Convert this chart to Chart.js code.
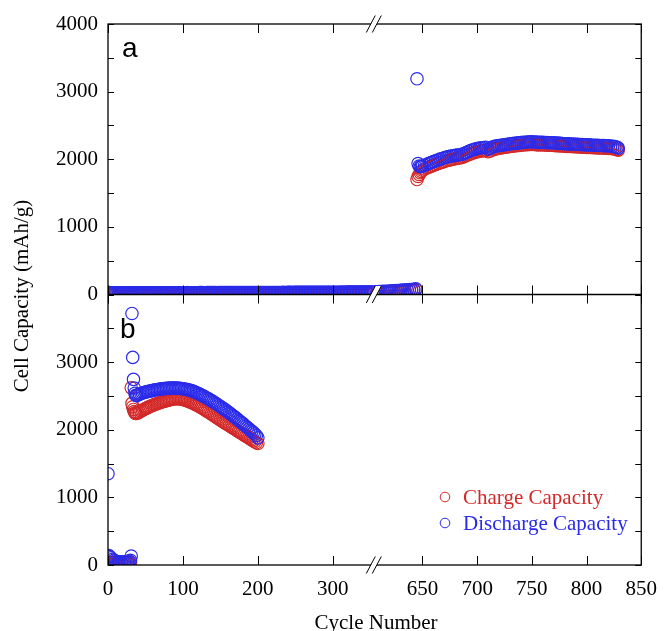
<!DOCTYPE html>
<html>
<head>
<meta charset="utf-8">
<script src="https://cdn.jsdelivr.net/npm/chart.js@4.4.1/dist/chart.umd.min.js"></script>
<style>
  body { margin: 0; background: #fff; }
  #wrap { width: 669px; height: 631px; }
</style>
</head>
<body>
<div id="wrap"><canvas id="capChart" width="669" height="631"></canvas></div>
<script>
// ---- panel a : low capacity cycles, left of the break (every 2nd cycle, 0..354) ----
const aLowLeftCycles = [
  0,2,4,6,8,10,12,14,16,18, 20,22,24,26,28,30,32,34,36,38, 40,42,44,46,48,50,52,54,56,58,
  60,62,64,66,68,70,72,74,76,78, 80,82,84,86,88,90,92,94,96,98, 100,102,104,106,108,110,112,114,116,118,
  120,122,124,126,128,130,132,134,136,138, 140,142,144,146,148,150,152,154,156,158,
  160,162,164,166,168,170,172,174,176,178, 180,182,184,186,188,190,192,194,196,198,
  200,202,204,206,208,210,212,214,216,218, 220,222,224,226,228,230,232,234,236,238,
  240,242,244,246,248,250,252,254,256,258, 260,262,264,266,268,270,272,274,276,278,
  280,282,284,286,288,290,292,294,296,298, 300,302,304,306,308,310,312,314,316,318,
  320,322,324,326,328,330,332,334,336,338, 340,342,344,346,348,350,352,354];
const aLowLeftDischarge = [
  28,27,26,26,25,25,25,24,24,24, 24,24,23,23,24,24,24,24,25,25, 24,24,24,25,25,25,25,24,25,25,
  25,25,24,24,25,25,25,26,26,26, 26,25,25,25,26,26,26,26,25,26, 26,26,26,27,26,26,26,25,26,26,
  26,27,27,27,26,26,27,27,27,27, 27,27,27,26,27,27,27,28,28,27,
  27,28,28,28,27,28,28,28,28,28, 28,27,28,28,29,29,28,28,29,29,
  29,28,29,29,29,29,30,29,29,30, 30,30,29,30,30,30,30,31,30,30,
  31,31,31,30,31,31,31,32,31,31, 32,32,31,32,32,32,32,33,32,32,
  33,33,32,33,33,33,34,33,33,34, 34,34,33,34,34,34,35,34,34,35,
  35,35,35,36,35,35,36,36,36,37, 36,36,37,37,37,38,38,38];
const aLowLeftCharge = [
  18,17,16,16,15,15,15,14,14,14, 14,14,13,13,14,14,14,14,15,15, 14,14,14,15,15,15,15,14,15,15,
  15,15,14,14,15,15,15,16,16,16, 16,15,15,15,16,16,16,16,15,16, 16,16,16,17,16,16,16,15,16,16,
  16,17,17,17,16,16,17,17,17,17, 17,17,17,16,17,17,17,18,18,17,
  17,18,18,18,17,18,18,18,18,18, 18,17,18,18,19,19,18,18,19,19,
  19,18,19,19,19,19,20,19,19,20, 20,20,19,20,20,20,20,21,20,20,
  21,21,21,20,21,21,21,22,21,21, 22,22,21,22,22,22,22,23,22,22,
  23,23,22,23,23,23,24,23,23,24, 24,24,23,24,24,24,25,24,24,25,
  25,25,25,26,25,25,26,26,26,27, 26,26,27,27,27,28,28,28];

// ---- panel a : right of the break (606..829) ----
const aRightCycles = [
  606,608,610,612,614,616,618,620,622,624, 626,628,630,632,634,636,638,640,642,644,
  645,646,647,648,649,
  650,652,654,656,658,660,662,664,666,668, 670,672,674,676,678,680,682,684,686,688,
  690,692,694,696,698,700,702,704,706,708, 710,712,714,716,718,720,722,724,726,728,
  730,732,734,736,738,740,742,744,746,748, 750,752,754,756,758,760,762,764,766,768,
  770,772,774,776,778,780,782,784,786,788, 790,792,794,796,798,800,802,804,806,808,
  810,812,814,816,818,820,822,824,826,828, 829];
const aRightDischarge = [
  40,41,43,44,46,47,49,51,53,55, 57,59,62,64,67,70,72,75,78,84,
  3190,1936,1900,1890,1893,
  1900,1912,1925,1940,1952,1965,1978,1990,2002,2012, 2022,2032,2040,2046,2052,2058,2062,2066,2072,2085,
  2100,2115,2128,2140,2150,2158,2165,2170,2174,2178, 2150,2165,2182,2192,2198,2204,2208,2212,2216,2222,
  2228,2232,2236,2238,2242,2246,2250,2252,2255,2258, 2258,2256,2254,2250,2252,2250,2248,2246,2245,2244,
  2242,2240,2238,2236,2234,2230,2228,2227,2225,2224, 2222,2220,2218,2216,2215,2213,2212,2210,2208,2207,
  2205,2204,2203,2201,2200,2198,2196,2192,2186,2178, 2165];
const aRightCharge = [
  30,31,33,34,36,37,39,41,43,45, 47,49,52,54,57,60,62,64,66,70,
  1700,1745,1775,1800,1820,
  1838,1855,1870,1884,1897,1910,1922,1934,1946,1957, 1967,1977,1986,1994,2001,2008,2014,2020,2026,2038,
  2052,2066,2080,2092,2102,2110,2117,2122,2127,2131, 2112,2122,2138,2150,2157,2163,2168,2173,2177,2182,
  2188,2192,2196,2199,2203,2207,2211,2214,2217,2220, 2220,2218,2216,2213,2214,2212,2210,2208,2207,2206,
  2204,2202,2200,2198,2196,2193,2191,2190,2188,2187, 2185,2183,2181,2179,2178,2176,2175,2173,2171,2170,
  2168,2167,2166,2164,2163,2161,2159,2156,2150,2143, 2135];

// ---- panel b (0..200) ----
const bDischargeCycles = [
  0,1,2,4,6,8,10,12,14,16,18,20,22,24,26,28,30,31,
  32,33,34,35,36,37,
  38,40,42,44,46,48,50,52,54,56, 58,60,62,64,66,68,70,72,74,76, 78,80,82,84,86,88,90,92,94,96,
  98,100,102,104,106,108,110,112,114,116, 118,120,122,124,126,128,130,132,134,136,
  138,140,142,144,146,148,150,152,154,156, 158,160,162,164,166,168,170,172,174,176,
  178,180,182,184,186,188,190,192,194,196, 198,200];
const bDischarge = [
  1350,140,125,105,85,70,60,52,48,46,45,45,46,48,52,58,70,133,
  3720,3070,2745,2617,2540,2510,
  2505,2515,2525,2535,2543,2550,2556,2562,2567,2572, 2577,2582,2587,2591,2595,2599,2602,2605,2608,2610,
  2612,2614,2615,2616,2617,2617,2617,2616,2614,2612, 2609,2606,2602,2598,2593,2588,2582,2575,2567,2558,
  2548,2538,2527,2516,2505,2493,2481,2469,2456,2443, 2430,2416,2402,2388,2374,2359,2344,2329,2313,2297,
  2281,2265,2248,2231,2214,2197,2180,2162,2144,2126, 2108,2090,2071,2052,2033,2014,1995,1976,1957,1938,
  1915,1880];
const bChargeCycles = [
  0,1,2,4,6,8,10,12,14,16,18,20,22,24,26,28,30,
  31,32,33,34,35,36,37,
  38,40,42,44,46,48,50,52,54,56, 58,60,62,64,66,68,70,72,74,76, 78,80,82,84,86,88,90,92,94,96,
  98,100,102,104,106,108,110,112,114,116, 118,120,122,124,126,128,130,132,134,136,
  138,140,142,144,146,148,150,152,154,156, 158,160,162,164,166,168,170,172,174,176,
  178,180,182,184,186,188,190,192,194,196, 198,200];
const bCharge = [
  30,45,40,35,30,28,26,25,24,24,24,25,26,28,30,34,40,
  2620,2390,2340,2300,2270,2250,2240,
  2240,2250,2262,2275,2288,2300,2312,2323,2334,2344, 2354,2363,2372,2380,2388,2396,2403,2410,2417,2423,
  2430,2436,2442,2447,2452,2456,2458,2459,2458,2456, 2452,2447,2441,2434,2426,2418,2409,2400,2390,2379,
  2367,2355,2343,2330,2317,2304,2290,2276,2262,2248, 2234,2219,2204,2189,2174,2159,2144,2129,2114,2101,
  2088,2074,2060,2046,2032,2018,2004,1990,1976,1962, 1948,1934,1920,1906,1892,1878,1864,1850,1836,1822,
  1808,1796];

// ---- axes ----
const leftTicks = [0, 100, 200, 300];
const rightTicks = [650, 700, 750, 800, 850];
const capTicks = [0, 1000, 2000, 3000, 4000];
const capMinorTicks = [0, 500, 1000, 1500, 2000, 2500, 3000, 3500, 4000];
const seriesNames = ['Charge Capacity', 'Discharge Capacity'];

const RED = '#d42828';
const BLUE = '#2a2aea';
const SERIF = "'Liberation Serif', 'Times New Roman', serif";
const SANS = "'Liberation Sans', Arial, sans-serif";

function pts(xs, ys) {
  return xs.map((x, i) => ({x: x, y: ys[i]}));
}

function series(label, color, xs, ys, xAxisID, yAxisID, order) {
  return {
    label: label,
    data: pts(xs, ys),
    xAxisID: xAxisID,
    yAxisID: yAxisID,
    order: order,
    borderColor: color,
    backgroundColor: 'rgba(0,0,0,0)',
    pointRadius: 6.2,
    pointHoverRadius: 6.2,
    pointBorderWidth: 1.2,
    showLine: false
  };
}

// clip each dataset to its own panel (part of the broken axis)
const panelClip = {
  id: 'panelClip',
  beforeDatasetDraw(chart, args) {
    const ds = chart.data.datasets[args.index];
    const xs = chart.scales[ds.xAxisID], ys = chart.scales[ds.yAxisID];
    const ctx = chart.ctx;
    ctx.save();
    ctx.beginPath();
    ctx.rect(xs.left, ys.top, xs.right - xs.left, ys.bottom - ys.top);
    ctx.clip();
  },
  afterDatasetDraw(chart) {
    chart.ctx.restore();
  }
};

// frame, inward ticks, axis breaks, titles and legend
const frame = {
  id: 'frame',
  afterDatasetsDraw(chart) {
    const {ctx, chartArea: a, scales} = chart;
    const ya = scales.ya, yb = scales.yb, x1 = scales.x1, x2 = scales.x2;
    const mid = ya.bottom;
    ctx.save();
    ctx.strokeStyle = '#000';
    ctx.lineWidth = 1.3;
    ctx.strokeRect(a.left, a.top, a.right - a.left, a.bottom - a.top);
    ctx.beginPath();
    ctx.moveTo(a.left, mid);
    ctx.lineTo(a.right, mid);
    ctx.stroke();

    ctx.lineWidth = 1;
    ctx.beginPath();
    [ya, yb].forEach(s => {
      capMinorTicks.forEach(v => {
        const y = Math.round(s.getPixelForValue(v)) + 0.5;
        ctx.moveTo(a.left, y); ctx.lineTo(a.left + 6, y);
        ctx.moveTo(a.right, y); ctx.lineTo(a.right - 6, y);
      });
    });
    [[x1, leftTicks], [x2, rightTicks]].forEach(([s, vals]) => {
      vals.forEach(v => {
        const x = Math.round(s.getPixelForValue(v)) + 0.5;
        [a.top, mid].forEach(y => { ctx.moveTo(x, y); ctx.lineTo(x, y + 9); });
        [mid, a.bottom].forEach(y => { ctx.moveTo(x, y); ctx.lineTo(x, y - 9); });
      });
    });
    ctx.stroke();

    // axis break marks
    const cx = x1.right;
    [a.top, mid, a.bottom].forEach(cy => {
      ctx.fillStyle = '#fff';
      ctx.beginPath();
      ctx.moveTo(cx - 7.5, cy + 8.5);
      ctx.lineTo(cx + 1.5, cy - 8.5);
      ctx.lineTo(cx + 7.5, cy - 8.5);
      ctx.lineTo(cx - 1.5, cy + 8.5);
      ctx.closePath();
      ctx.fill();
      ctx.beginPath();
      ctx.moveTo(cx - 7.5, cy + 8.5); ctx.lineTo(cx + 1.5, cy - 8.5);
      ctx.moveTo(cx - 1.5, cy + 8.5); ctx.lineTo(cx + 7.5, cy - 8.5);
      ctx.stroke();
    });

    // panel letters
    ctx.fillStyle = '#000';
    ctx.font = '28px ' + SANS;
    ctx.textAlign = 'left';
    ctx.textBaseline = 'alphabetic';
    ctx.fillText('a', 122, 57);
    ctx.fillText('b', 120, 338);

    // axis titles
    ctx.font = '21px ' + SERIF;
    ctx.textAlign = 'center';
    ctx.fillText('Cycle Number', 376, 629);
    ctx.save();
    ctx.translate(28, 296);
    ctx.rotate(-Math.PI / 2);
    ctx.fillText('Cell Capacity (mAh/g)', 0, 0);
    ctx.restore();

    // legend
    ctx.textAlign = 'left';
    [[seriesNames[0], RED, 504], [seriesNames[1], BLUE, 530]].forEach(([txt, col, base]) => {
      ctx.strokeStyle = col;
      ctx.lineWidth = 1;
      ctx.beginPath();
      ctx.arc(445, base - 7, 4.8, 0, Math.PI * 2);
      ctx.stroke();
      ctx.fillStyle = col;
      ctx.fillText(txt, 463, base);
    });
    ctx.restore();
  }
};

const tickFont = {family: SERIF, size: 21};

function xScale(min, max, step, weight) {
  return {
    type: 'linear', position: 'bottom', stack: 'cycles', stackWeight: weight,
    min: min, max: max,
    grid: {display: false, drawTicks: false},
    border: {display: false},
    ticks: {stepSize: step, includeBounds: false, padding: 12, color: '#000', font: tickFont,
            maxRotation: 0, autoSkip: false, callback: v => String(v)},
    afterFit: s => { s.height = 66; }
  };
}

function yScale(dropTop) {
  return {
    type: 'linear', position: 'left', stack: 'cap', stackWeight: 1,
    min: 0, max: 4000,
    grid: {display: false, drawTicks: false},
    border: {display: false},
    ticks: {stepSize: 1000, padding: 10, color: '#000', font: tickFont, callback: v => String(v)},
    afterBuildTicks: s => {
      s.ticks = capTicks.filter(v => !(dropTop && v === 4000)).map(v => ({value: v}));
    },
    afterFit: s => { s.width = 108; }
  };
}

const ctx = document.getElementById('capChart').getContext('2d');
new Chart(ctx, {
  type: 'scatter',
  data: {
    datasets: [
      series(seriesNames[1], BLUE, aLowLeftCycles, aLowLeftDischarge, 'x1', 'ya', 0),
      series(seriesNames[1], BLUE, aRightCycles, aRightDischarge, 'x2', 'ya', 0),
      series(seriesNames[1], BLUE, bDischargeCycles, bDischarge, 'x1', 'yb', 0),
      series(seriesNames[0], RED, aLowLeftCycles, aLowLeftCharge, 'x1', 'ya', 1),
      series(seriesNames[0], RED, aRightCycles, aRightCharge, 'x2', 'ya', 1),
      series(seriesNames[0], RED, bChargeCycles, bCharge, 'x1', 'yb', 1)
    ]
  },
  options: {
    responsive: false,
    animation: false,
    devicePixelRatio: 1,
    layout: {padding: {top: 24, right: 19, left: 0, bottom: 0}},
    plugins: {
      legend: {display: false},
      tooltip: {enabled: false}
    },
    scales: {
      x1: xScale(0, 354.7, 100, 270.3),
      x2: xScale(605.5, 850, 50, 272),
      yb: yScale(true),
      ya: yScale(false)
    }
  },
  plugins: [panelClip, frame]
});
</script>
</body>
</html>
